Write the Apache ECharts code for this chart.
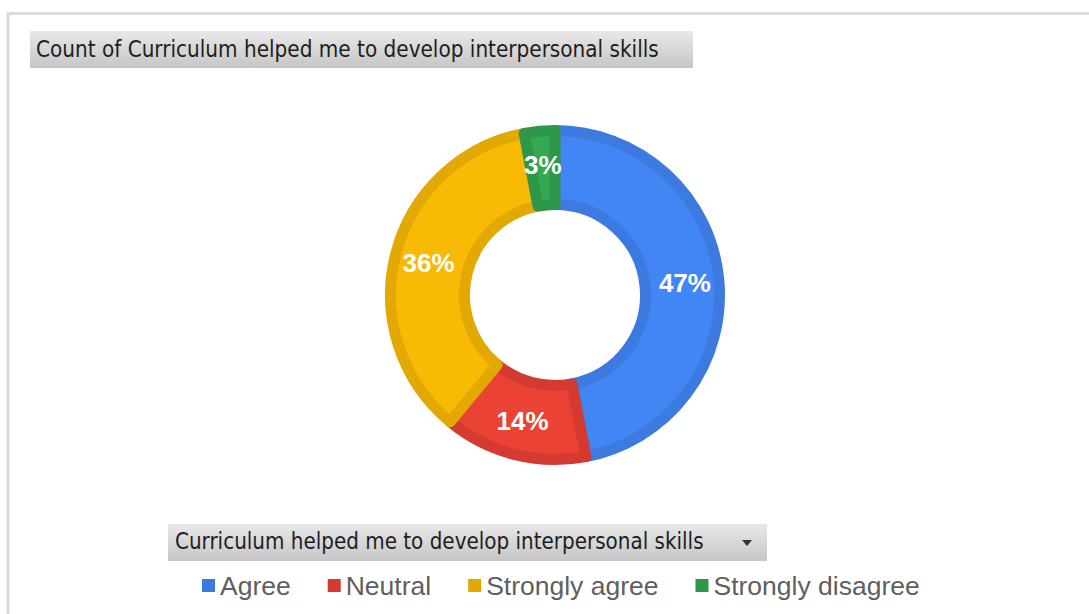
<!DOCTYPE html>
<html>
<head>
<meta charset="utf-8">
<script src="https://cdn.jsdelivr.net/npm/echarts@6/dist/echarts.min.js"></script>
<style>
  html, body { margin: 0; padding: 0; background: #ffffff; }
  #chart { width: 1089px; height: 614px; }
</style>
</head>
<body>
<div id="chart"></div>
<script>
// Survey answers and their share of responses
const categories = ['Agree', 'Neutral', 'Strongly agree', 'Strongly disagree'];
const shares = [47, 14, 36, 3];
const chartTitle = 'Count of Curriculum helped me to develop interpersonal skills';
const fieldName = 'Curriculum helped me to develop interpersonal skills';

// Slice fills and their darker rims
const fillPalette = ['#4285f4', '#ea4335', '#f8ba05', '#34a853'];
const rimPalette = ['#3c7ae0', '#d43a30', '#e2a803', '#2f974a'];

const chart = echarts.init(document.getElementById('chart'), null, { renderer: 'svg' });

const headerFill = new echarts.graphic.LinearGradient(0, 0, 0, 1, [
  { offset: 0, color: '#e8e8e8' },
  { offset: 1, color: '#c6c6c6' }
]);

const sliceData = categories.map((name, i) => ({
  name: name,
  value: shares[i],
  itemStyle: { color: fillPalette[i], borderColor: rimPalette[i] }
}));

const legendData = categories.map((name, i) => ({
  name: name,
  itemStyle: { color: rimPalette[i], borderWidth: 0 }
}));

const headerFont = '"DejaVu Sans Condensed", "DejaVu Sans", sans-serif';

chart.setOption({
  animation: false,
  backgroundColor: '#ffffff',
  graphic: [
    // outer frame of the chart area
    {
      type: 'rect', z: 0,
      shape: { x: 8, y: 13.5, width: 1200, height: 700 },
      style: { fill: 'none', stroke: '#dcdcdc', lineWidth: 3 }
    },
    // title bar
    {
      type: 'rect', z: 1,
      shape: { x: 30, y: 31, width: 663, height: 37 },
      style: { fill: headerFill }
    },
    // field button above the legend
    {
      type: 'rect', z: 1,
      shape: { x: 168, y: 524, width: 599, height: 37 },
      style: { fill: headerFill }
    },
    {
      type: 'polygon', z: 2,
      shape: { points: [[742, 540], [752, 540], [747, 546]] },
      style: { fill: '#333333' }
    }
  ],
  title: [
    {
      text: chartTitle,
      left: 36, top: 38, padding: 0,
      textStyle: { fontFamily: headerFont, fontSize: 22.3, fontWeight: 'normal', color: '#1e1e1e' }
    },
    {
      text: fieldName,
      left: 175, top: 530, padding: 0,
      textStyle: { fontFamily: headerFont, fontSize: 22.2, fontWeight: 'normal', color: '#1e1e1e' }
    }
  ],
  legend: {
    left: 202, top: 572, padding: 0,
    itemWidth: 13, itemHeight: 13, itemGap: 37,
    icon: 'rect',
    selectedMode: false,
    textStyle: { fontFamily: '"Liberation Sans", Arial, sans-serif', fontSize: 26.5, color: '#5f5f5f' },
    data: legendData
  },
  series: [
    {
      type: 'pie',
      center: [555, 295],
      radius: [90.5, 164.5],
      startAngle: 90,
      clockwise: true,
      percentPrecision: 0,
      avoidLabelOverlap: false,
      itemStyle: { borderWidth: 11 },
      label: {
        show: true,
        position: 'inside',
        formatter: '{d}%',
        color: '#ffffff',
        fontFamily: '"Liberation Sans", Arial, sans-serif',
        fontSize: 26,
        fontWeight: 'bold'
      },
      labelLine: { show: false },
      emphasis: { disabled: true },
      data: sliceData
    }
  ]
});
</script>
</body>
</html>
